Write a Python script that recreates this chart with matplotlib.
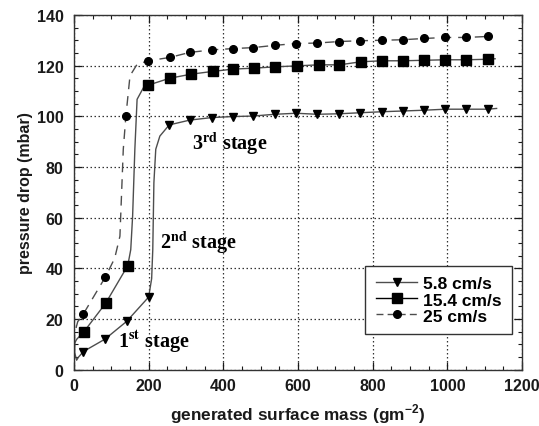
"""Pressure drop vs generated surface mass for three filtration velocities."""

import matplotlib

matplotlib.use("Agg")
import matplotlib.pyplot as plt
from matplotlib.ticker import MultipleLocator

# ── data ─────────────────────────────────────────────────────────────────────
# marker positions
tri_x = [25, 83, 141, 200, 255, 310, 369, 425, 480, 538, 595, 651, 711, 766,
         825, 882, 938, 994, 1051, 1108]
tri_y = [7.2, 12.1, 19.1, 28.7, 96.6, 98.5, 99.5, 99.9, 100.1, 100.8, 101.2,
         100.8, 101.0, 101.4, 101.8, 102.1, 102.4, 102.8, 102.8, 102.8]

sq_x = [27, 85, 144, 199, 256, 313, 371, 425, 483, 538, 597, 655, 711, 768,
        825, 880, 938, 994, 1051, 1108]
sq_y = [15.1, 26.3, 41.1, 112.3, 115.0, 116.6, 117.7, 118.6, 119.0, 119.5,
        119.9, 120.3, 120.3, 121.5, 121.9, 121.9, 122.1, 122.3, 122.3, 122.5]

circ_x = [25, 84, 139, 199, 256, 310, 369, 425, 480, 538, 595, 651, 711, 766,
          825, 880, 938, 994, 1051, 1108]
circ_y = [22.0, 36.6, 100.1, 121.9, 123.2, 125.2, 126.2, 126.7, 127.1, 128.0,
          128.7, 128.9, 129.5, 129.8, 130.0, 130.2, 130.7, 131.1, 131.1, 131.5]

# measured traces (continuous lines)
tri_line_x = [1, 2, 7, 12, 18, 25, 83, 141, 200, 208, 211, 214, 219, 230, 255,
              310, 369, 425, 480, 538, 595, 651, 711, 766, 825, 882, 938, 994,
              1051, 1108, 1132]
tri_line_y = [12.0, 6.6, 3.8, 5.0, 6.0, 7.2, 12.1, 19.1, 28.7, 36.0, 47.4,
              73.8, 87.0, 92.2, 96.6, 98.5, 99.5, 99.9, 100.1, 100.8, 101.2,
              100.8, 101.0, 101.4, 101.8, 102.1, 102.4, 102.8, 102.8, 102.8,
              103.1]

sq_line_x = [1, 2, 7, 27, 85, 144, 152, 157, 163, 169, 186, 199, 256, 313,
             371, 425, 483, 538, 597, 655, 711, 768, 825, 880, 938, 994, 1051,
             1108, 1128]
sq_line_y = [8.0, 10.6, 12.0, 15.1, 26.3, 41.1, 47.4, 60.6, 87.0, 106.7,
             111.3, 112.3, 115.0, 116.6, 117.7, 118.6, 119.0, 119.5, 119.9,
             120.3, 120.3, 121.5, 121.9, 121.9, 122.1, 122.3, 122.3, 122.5,
             122.7]

circ_line_x = [1, 2, 10, 25, 84, 109, 123, 132, 139, 150, 169, 199, 256, 310,
               369, 425, 480, 538, 595, 651, 711, 766, 825, 880, 938, 994,
               1051, 1108]
circ_line_y = [10.0, 14.6, 19.0, 22.0, 36.6, 44.0, 52.7, 87.0, 100.1, 116.0,
               120.5, 121.9, 123.2, 125.2, 126.2, 126.7, 127.1, 128.0, 128.7,
               128.9, 129.5, 129.8, 130.0, 130.2, 130.7, 131.1, 131.1, 131.5]

labels = ["5.8 cm/s", "15.4 cm/s", "25 cm/s"]
x_ticks = [0, 200, 400, 600, 800, 1000, 1200]
y_ticks = [0, 20, 40, 60, 80, 100, 120, 140]

# ── plot ─────────────────────────────────────────────────────────────────────
plt.rcParams["font.family"] = ["Liberation Sans", "DejaVu Sans"]
plt.rcParams["mathtext.fontset"] = "custom"
plt.rcParams["mathtext.rm"] = "Liberation Sans:bold"
plt.rcParams["mathtext.bf"] = "Liberation Sans:bold"

INK = "#1a1a1a"
LINE = "#4d4d4d"

fig = plt.figure(figsize=(5.39, 4.27), dpi=100)
ax = fig.add_axes([74 / 539, 1 - 370.8 / 427, 448 / 539, 354.9 / 427])

ax.plot(tri_line_x, tri_line_y, color=LINE, lw=1.0, zorder=2)
ax.plot(sq_line_x, sq_line_y, color=LINE, lw=1.0, zorder=2)
ax.plot(circ_line_x, circ_line_y, color=LINE, lw=1.0, ls=(0, (7, 5)),
        zorder=2)
ax.plot(tri_x, tri_y, "v", color="black", ms=6.3, zorder=3)
ax.plot(sq_x, sq_y, "s", color="black", ms=7, zorder=3)
ax.plot(circ_x, circ_y, "o", color="black", ms=5.5, zorder=3)

# legend proxies: grey line with black marker
h1, = ax.plot([], [], color=LINE, lw=1.0, marker="v", mfc="black",
              mec="black", ms=6.3)
h2, = ax.plot([], [], color="black", lw=1.0, marker="s", mfc="black",
              mec="black", ms=7)
h3, = ax.plot([], [], color=LINE, lw=1.0, ls=(0, (5, 3)), marker="o",
              mfc="black", mec="black", ms=5.5)
leg = ax.legend([h1, h2, h3], labels, loc="lower right",
                bbox_to_anchor=(0.977, 0.101), borderaxespad=0,
                fancybox=False, framealpha=1, edgecolor="#333333",
                handlelength=2.4, borderpad=0.6, labelspacing=0.05,
                handletextpad=0.3,
                prop={"family": "Liberation Sans", "weight": "bold",
                      "size": 12.5})
leg.get_frame().set_linewidth(1.0)
leg.set_zorder(5)

ax.set_xlim(0, 1200)
ax.set_ylim(0, 140)
ax.set_xticks(x_ticks)
ax.set_yticks(y_ticks)
ax.xaxis.set_minor_locator(MultipleLocator(50))
ax.yaxis.set_minor_locator(MultipleLocator(5))
ax.tick_params(which="both", direction="in", top=True, right=True,
               colors=INK, labelsize=11.5)
ax.tick_params(axis="x", pad=6)
ax.tick_params(axis="y", pad=7.5)
ax.tick_params(which="major", length=6, width=0.9)
ax.tick_params(which="minor", length=3, width=0.8)
for lab in ax.get_xticklabels() + ax.get_yticklabels():
    lab.set_fontweight("bold")
for s in ax.spines.values():
    s.set_color("#333333")
    s.set_linewidth(1.0)
ax.grid(True, which="major", color="#333333", ls=(0, (1.2, 2)), lw=0.9)

ax.set_xlabel(r"generated surface mass (gm$^{\mathbf{-2}}$)", fontsize=12.4,
              fontweight="bold", color=INK, labelpad=6)
ax.set_ylabel("pressure drop (mbar)", fontsize=11.5, fontweight="bold",
              color=INK, labelpad=3)

stage_kw = dict(fontsize=14.5, fontweight="bold", color="black",
                family="Liberation Serif", math_fontfamily="stix", zorder=6)
ax.text(119, 9.5, r"1$^{\mathbf{st}}$ stage", **stage_kw)
ax.text(230, 48.3, r"2$^{\mathbf{nd}}$ stage", **stage_kw)
ax.text(315, 87.1, r"3$^{\mathbf{rd}}$ stage", **stage_kw)

fig.savefig("out.png", dpi=100)
